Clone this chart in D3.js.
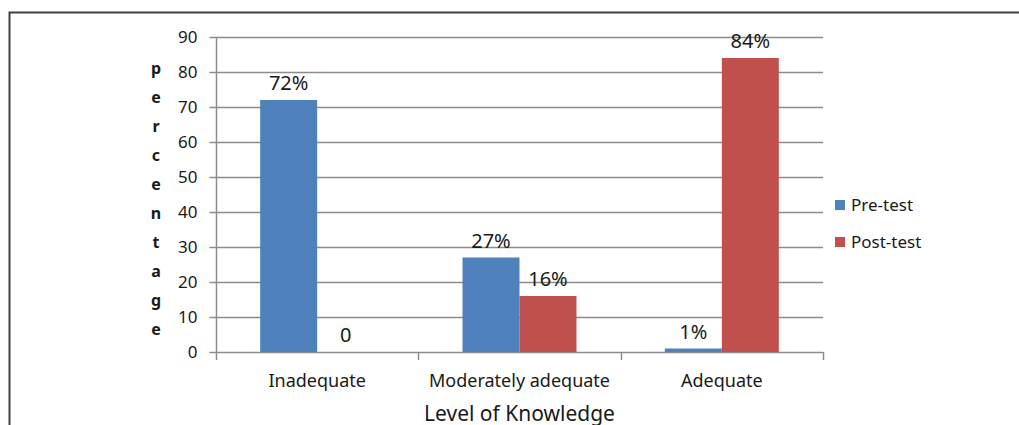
<!DOCTYPE html>
<html>
<head>
<meta charset="utf-8">
<script src="https://cdn.jsdelivr.net/npm/d3@7"></script>
<style>
  body { margin: 0; background: #fff; }
  text { font-family: "Noto Sans", "Open Sans", sans-serif; fill: #1a1a1a; }
</style>
</head>
<body>
<script>
var categories = ["Inadequate", "Moderately adequate", "Adequate"];
var seriesNames = ["Pre-test", "Post-test"];
var preTest = [72, 27, 1];
var postTest = [0, 16, 84];
var yTicks = [0, 10, 20, 30, 40, 50, 60, 70, 80, 90];
var colors = ["#4f81bd", "#c0504d"];

var width = 1019,
    height = 425;
var plotLeft = 216, plotRight = 823, plotTop = 37, plotBottom = 352;

var svg = d3.select("body")
    .append("svg")
    .attr("width", width)
    .attr("height", height);

// frame (only top and left edges visible)
svg.append("path")
    .attr("d", "M9.5,425 L9.5,12.5 L1019,12.5")
    .attr("fill", "none")
    .attr("stroke", "#404040")
    .attr("stroke-width", 2);

var y = d3.scaleLinear().domain([0, 90]).range([plotBottom, plotTop]);
var x0 = d3.scaleBand().domain(categories).range([plotLeft, plotRight]);
var x1 = d3.scaleBand().domain(seriesNames)
    .range([0, x0.bandwidth()])
    .paddingInner(0)
    .paddingOuter(0.775);

// gridlines
svg.append("g")
    .selectAll("line")
    .data(yTicks)
    .enter()
    .append("line")
    .attr("x1", plotLeft)
    .attr("x2", plotRight)
    .attr("y1", function (d) { return Math.round(y(d)) + 0.5; })
    .attr("y2", function (d) { return Math.round(y(d)) + 0.5; })
    .attr("stroke", "#8c8c8c")
    .attr("stroke-width", 1.5);

// y axis
var yAxis = svg.append("g")
    .attr("transform", "translate(" + (plotLeft + 0.5) + ",0)")
    .call(d3.axisLeft(y).tickValues(yTicks).tickSize(7).tickPadding(12));
yAxis.select(".domain").remove();
yAxis.selectAll(".tick line").attr("stroke", "#8c8c8c").attr("stroke-width", 1.5);
yAxis.selectAll(".tick text")
    .style("font-size", "17px")
    .style("font-family", "'Noto Sans', sans-serif")
    .attr("fill", "#1a1a1a");
svg.append("line")
    .attr("x1", plotLeft + 0.5).attr("x2", plotLeft + 0.5)
    .attr("y1", plotTop).attr("y2", plotBottom + 8)
    .attr("stroke", "#8c8c8c").attr("stroke-width", 1.5);

// x axis ticks at band edges
var edges = categories.map(function (c) { return x0(c) + x0.bandwidth(); });
svg.append("g")
    .selectAll("line")
    .data(edges)
    .enter()
    .append("line")
    .attr("x1", function (d) { return Math.round(d) + 0.5; })
    .attr("x2", function (d) { return Math.round(d) + 0.5; })
    .attr("y1", plotBottom)
    .attr("y2", plotBottom + 8)
    .attr("stroke", "#8c8c8c")
    .attr("stroke-width", 1.5);

svg.append("g")
    .selectAll("text")
    .data(categories)
    .enter()
    .append("text")
    .attr("x", function (d) { return x0(d) + x0.bandwidth() / 2; })
    .attr("y", 387)
    .attr("text-anchor", "middle")
    .style("font-size", "18px")
    .text(function (d) { return d; });

// bars
var rows = categories.map(function (c, i) {
    return { cat: c, values: [preTest[i], postTest[i]] };
});

var groups = svg.append("g")
    .selectAll("g")
    .data(rows)
    .enter()
    .append("g")
    .attr("transform", function (d) { return "translate(" + x0(d.cat) + ",0)"; });

groups.selectAll("rect")
    .data(function (d) {
        return d.values.map(function (v, j) { return { name: seriesNames[j], value: v, j: j }; });
    })
    .enter()
    .append("rect")
    .attr("x", function (d) { return x1(d.name); })
    .attr("width", x1.bandwidth())
    .attr("y", function (d) { return y(d.value); })
    .attr("height", function (d) { return plotBottom - y(d.value); })
    .attr("fill", function (d) { return colors[d.j]; });

groups.selectAll("text")
    .data(function (d) {
        return d.values.map(function (v, j) { return { name: seriesNames[j], value: v }; });
    })
    .enter()
    .append("text")
    .attr("x", function (d) { return x1(d.name) + x1.bandwidth() / 2; })
    .attr("y", function (d) { return y(d.value) - 10; })
    .attr("text-anchor", "middle")
    .style("font-size", "20px")
    .text(function (d) { return d.value === 0 ? "0" : d.value + "%"; });

// y axis title, stacked letters
var yTitle = "percentage".split("");
svg.append("g")
    .selectAll("text")
    .data(yTitle)
    .enter()
    .append("text")
    .attr("x", 156)
    .attr("y", function (d, i) { return 74 + i * 29; })
    .attr("text-anchor", "middle")
    .style("font-size", "16px")
    .style("font-weight", "bold")
    .text(function (d) { return d; });

// x axis title
svg.append("text")
    .attr("x", (plotLeft + plotRight) / 2)
    .attr("y", 421)
    .attr("text-anchor", "middle")
    .style("font-size", "21px")
    .text("Level of Knowledge");

// legend
var legend = svg.append("g")
    .selectAll("g")
    .data(seriesNames)
    .enter()
    .append("g")
    .attr("transform", function (d, i) { return "translate(835," + (200 + i * 37) + ")"; });
legend.append("rect")
    .attr("width", 10)
    .attr("height", 10)
    .attr("fill", function (d, i) { return colors[i]; });
legend.append("text")
    .attr("x", 16)
    .attr("y", 11)
    .style("font-size", "17px")
    .text(function (d) { return d; });
</script>
</body>
</html>
